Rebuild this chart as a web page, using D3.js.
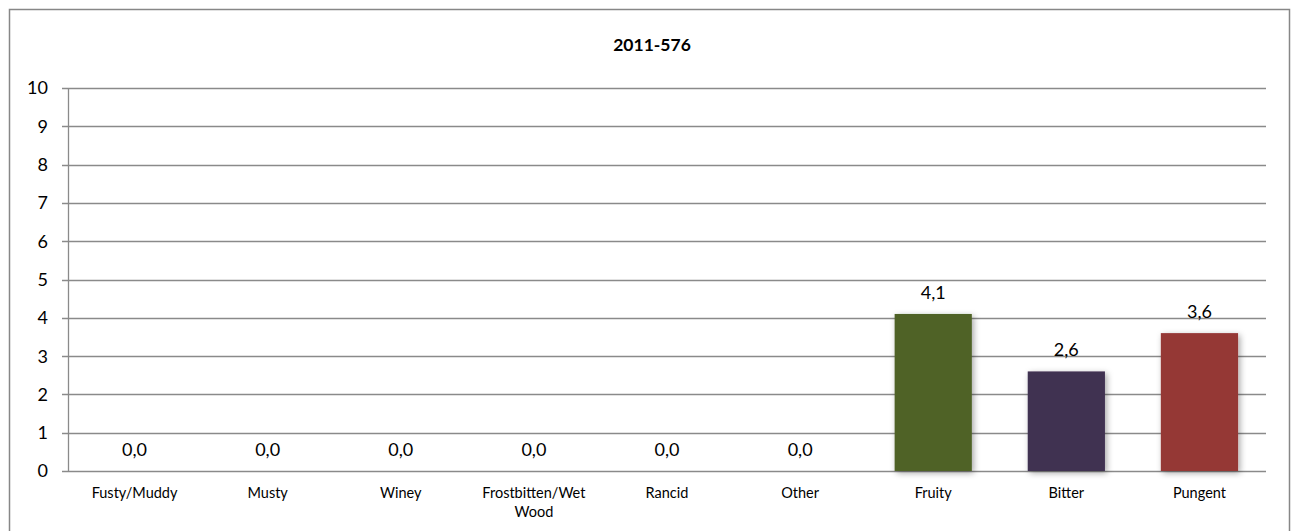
<!DOCTYPE html>
<html><head><meta charset="utf-8">
<script src="https://cdn.jsdelivr.net/npm/d3@7"></script>
<style>body{margin:0;background:#fff;}svg{display:block;}</style>
</head><body>
<svg id="c" width="1292" height="531"></svg>
<script>
const title = "2011-576";
const categories = ["Fusty/Muddy","Musty","Winey","Frostbitten/Wet Wood","Rancid","Other","Fruity","Bitter","Pungent"];
const values = [0,0,0,0,0,0,4.1,2.6,3.6];
const barColors = ["#4F81BD","#4F81BD","#4F81BD","#4F81BD","#4F81BD","#4F81BD","#4F6228","#403151","#953735"];
const yTicks = [0,1,2,3,4,5,6,7,8,9,10];

const svg = d3.select("#c");
const font = "Lato, 'Open Sans', sans-serif";
const m = {left:68, right:1266, top:88, bottom:471};

const defs = svg.append("defs");
const f = defs.append("filter").attr("id","sh").attr("x","-20%").attr("y","-20%").attr("width","140%").attr("height","140%");
f.append("feDropShadow").attr("dx",2).attr("dy",2).attr("stdDeviation",3).attr("flood-color","#000").attr("flood-opacity",0.35);

svg.append("rect").attr("x",9.5).attr("y",9.5).attr("width",1280).attr("height",530)
  .attr("fill","#fff").attr("stroke","#878787").attr("stroke-width",1.5);

svg.append("text").attr("x",652).attr("y",51).attr("text-anchor","middle")
  .attr("font-family",font).attr("font-weight","bold").attr("font-size",17.5).attr("fill","#000").text(title);

const x = d3.scaleBand().domain(categories).range([m.left,m.right]).paddingInner(0.42).paddingOuter(0.21);
const y = d3.scaleLinear().domain([0,10]).range([m.bottom,m.top]);

// gridlines
svg.append("g").selectAll("line").data(yTicks).join("line")
  .attr("x1",m.left-6).attr("x2",m.right)
  .attr("y1",d=>Math.round(y(d))+0.5).attr("y2",d=>Math.round(y(d))+0.5)
  .attr("stroke","#8a8a8a").attr("stroke-width",1.3);

// y axis line
svg.append("line").attr("x1",m.left+0.5).attr("x2",m.left+0.5).attr("y1",m.top).attr("y2",m.bottom)
  .attr("stroke","#8a8a8a").attr("stroke-width",1.3);

// y tick labels
svg.append("g").selectAll("text").data(yTicks).join("text")
  .attr("x",48).attr("y",d=>y(d)).attr("dy","0.36em").attr("text-anchor","end")
  .attr("font-family",font).attr("font-size",18).attr("fill","#000").text(d=>d);

// bars
svg.append("g").selectAll("rect").data(values).join("rect")
  .attr("x",(d,i)=>x(categories[i])).attr("width",x.bandwidth())
  .attr("y",d=>y(d)).attr("height",d=>y(0)-y(d))
  .attr("fill",(d,i)=>barColors[i]).attr("filter","url(#sh)");

// value labels
svg.append("g").selectAll("text").data(values).join("text")
  .attr("x",(d,i)=>x(categories[i])+x.bandwidth()/2).attr("y",d=>y(d)-15)
  .attr("text-anchor","middle").attr("font-family",font).attr("font-size",18).attr("fill","#000")
  .text(d=>d.toFixed(1).replace(".",","));

// category labels with wrapping
svg.append("g").selectAll("text").data(categories).join("text")
  .attr("x",d=>x(d)+x.bandwidth()/2).attr("y",498)
  .attr("text-anchor","middle").attr("font-family",font).attr("font-size",14.5).attr("fill","#000")
  .each(function(d){
    const t = d3.select(this);
    const words = d.split(" ");
    if (d.length > 14 && words.length > 1) {
      t.append("tspan").attr("x",t.attr("x")).text(words.slice(0,-1).join(" "));
      t.append("tspan").attr("x",t.attr("x")).attr("dy",19).text(words[words.length-1]);
    } else t.text(d);
  });
</script>
</body></html>
